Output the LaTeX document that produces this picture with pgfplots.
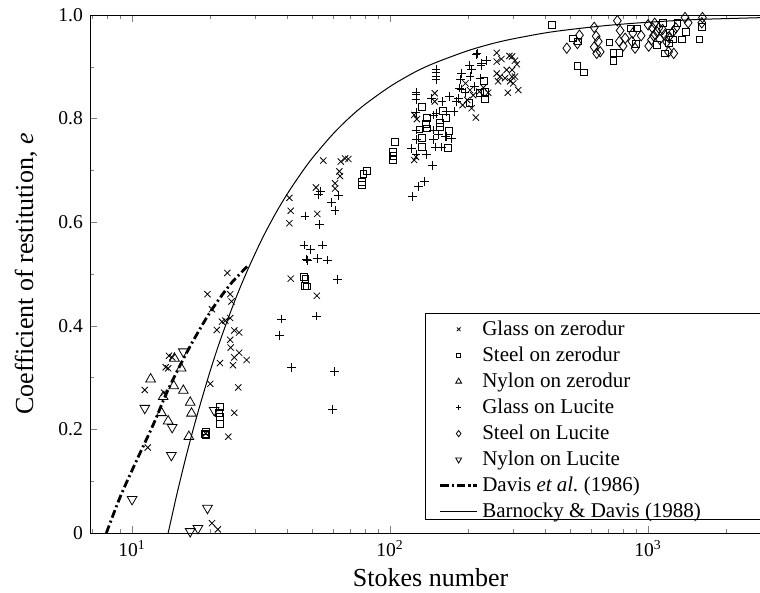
\documentclass[border=0pt]{standalone}
\usepackage{fontspec}
\setmainfont{Liberation Serif}
\usepackage{pgfplots}
\pgfplotsset{compat=1.18}
\usepackage{pgfplotstable}

% glass on zerodur
\pgfplotstableread{
St e
23.4 0.502
19.6 0.461
24.0 0.461
24.3 0.447
20.4 0.432
22.3 0.408
24.0 0.415
23.0 0.410
21.3 0.392
24.9 0.391
26.0 0.387
24.0 0.373
24.1 0.358
26.0 0.348
24.9 0.339
27.8 0.334
21.9 0.328
24.6 0.324
13.9 0.342
14.3 0.339
13.5 0.320
13.8 0.318
20.1 0.288
25.8 0.281
11.2 0.276
13.3 0.271
24.9 0.232
23.6 0.186
11.5 0.165
19.3 0.192
20.4 0.019
21.5 0.007
55.1 0.719
64.4 0.717
66.9 0.723
68.9 0.722
63.6 0.698
64.0 0.689
61.2 0.675
61.2 0.665
51.6 0.667
40.7 0.647
41.2 0.622
40.7 0.598
52.2 0.616
41.2 0.491
52.0 0.458
124 0.807
127 0.799
126 0.726
124 0.720
149 0.849
149 0.833
215 0.802
207 0.820
191 0.826
199 0.836
204 0.855
196 0.868
210 0.845
222 0.852
230 0.860
240 0.850
259 0.927
259 0.910
290 0.921
297 0.920
305 0.912
310 0.905
283 0.894
297 0.894
259 0.887
267 0.881
297 0.881
305 0.881
279 0.878
292 0.872
300 0.868
262 0.872
286 0.850
314 0.855
270 0.915
}\glasszero

% steel on zerodur
\pgfplotstableread{
St e
19.3 0.196
19.3 0.189
19.2 0.192
21.9 0.244
21.7 0.232
21.9 0.224
21.9 0.210
46.4 0.494
47.0 0.490
46.8 0.477
47.5 0.476
81.3 0.699
78.8 0.693
77.6 0.678
77.6 0.672
104.5 0.755
102.4 0.736
103 0.728
102.7 0.721
132.7 0.822
138.7 0.801
137.6 0.790
138.7 0.781
156 0.791
156 0.784
160 0.815
164.8 0.802
168.7 0.777
167 0.743
130 0.779
132.7 0.762
132.7 0.746
231 0.872
233 0.852
233 0.837
223 0.849
203 0.830
423 0.981
511 0.955
536 0.949
532 0.902
565 0.889
708 0.947
734 0.927
774 0.927
734 0.911
857 0.974
904 0.974
898 0.944
1081 0.942
1164 0.926
1247 0.953
1299 0.985
1351 0.953
1403 0.968
1581 0.953
1615 0.977
1140 0.984
1217 0.965
1200 0.945
}\steelzero

% nylon on zerodur
\pgfplotstableread{
St e
11.8 0.297
14.6 0.337
15.5 0.318
14.5 0.284
15.8 0.275
13.2 0.263
13.0 0.232
16.8 0.252
17.0 0.231
13.8 0.216
16.6 0.186
}\nylonzero

% glass on Lucite
\pgfplotstableread{
St e
53.6 0.659
52.7 0.654
63.0 0.651
59.4 0.638
61.2 0.622
46.8 0.612
53.2 0.596
46.4 0.556
49.3 0.548
54.8 0.556
47.3 0.529
48.0 0.526
52.2 0.530
57.1 0.527
62.5 0.490
38.0 0.413
52.0 0.419
37.2 0.382
41.6 0.320
60.7 0.311
60.0 0.239
122.4 0.649
128.8 0.669
135.9 0.678
146.4 0.709
138.7 0.730
126.1 0.730
121.3 0.743
149.4 0.745
158.5 0.745
126.9 0.760
147.2 0.760
173.4 0.762
164.8 0.766
126.1 0.778
147.2 0.778
150.7 0.810
177.0 0.813
126.1 0.811
126 0.846
126 0.850
126 0.837
145.1 0.839
169.8 0.842
184.1 0.839
150.7 0.895
150.7 0.889
150.7 0.882
150.7 0.875
189.7 0.887
187 0.875
202.7 0.903
215.4 0.923
226.7 0.907
235.6 0.912
189.7 0.857
181.4 0.833
217 0.925
207 0.895
225 0.902
204 0.881
223 0.878
186 0.859
159 0.833
147 0.807
166 0.813
154 0.770
164 0.766
195 0.850
212 0.862
}\glassluc

% steel on Lucite
\pgfplotstableread{
St e
484 0.936
542 0.961
532 0.945
618 0.976
629 0.959
618 0.938
641 0.949
632 0.926
652 0.929
760 0.989
779 0.970
774 0.949
815 0.955
872 0.965
890 0.936
865 0.949
1000 0.981
1005 0.940
1030 0.952
1060 0.984
1081 0.968
1138 0.972
1110 0.953
1200 0.957
1250 0.968
1200 0.929
1257 0.926
1390 0.995
1430 0.985
1624 0.995
1615 0.985
1050 0.960
1100 0.975
1160 0.962
1180 0.948
1280 0.975
800 0.940
1040 0.975
940 0.960
}\steelluc

% nylon on Lucite
\pgfplotstableread{
St e
15.8 0.350
11.2 0.241
14.3 0.204
14.2 0.150
10.0 0.065
19.6 0.048
18.0 0.009
16.8 0.003
20.8 0.237
}\nylonluc

\begin{document}
\begin{tikzpicture}
\begin{axis}[
    scale only axis,
    width=340.6pt, height=259pt,
    xmode=log,
    xmin=6.87, xmax=3000,
    ymin=0, ymax=1,
    tick align=inside,
    xtick pos=both, ytick pos=left,
    major tick length=3.5pt, minor tick length=2pt,
    xtick={10,100,1000},
    xticklabels={10\textsuperscript{1},10\textsuperscript{2},10\textsuperscript{3}},
    minor xtick={7,8,9,20,30,40,50,60,70,80,90,200,300,400,500,600,700,800,900,2000},
    ytick={0,0.2,0.4,0.6,0.8,1},
    yticklabels={0,0.2,0.4,0.6,0.8,1.0},
    minor ytick={0.1,0.3,0.5,0.7,0.9},
    tick label style={font=\fontsize{9.8}{11}\selectfont},
    /pgf/number format/assume math mode=true,
    xlabel={Stokes number},
    ylabel={Coefficient of restitution, \textit{e}},
    every axis x label/.style={at={(rel axis cs:0.5,-0.087)}, anchor=center,
      font=\fontsize{13}{15}\selectfont},
    every axis y label/.style={at={(rel axis cs:-0.094,0.5)}, rotate=90, anchor=center,
      font=\fontsize{13}{15}\selectfont},
    clip=false,
    every axis plot/.append style={black, line width=0.4pt},
    legend style={at={(0.503,0.0077)}, anchor=south west, draw=none, fill=none,
      font=\fontsize{10.5}{12}\selectfont, row sep=0.25pt},
    legend cell align=left,
    legend image code/.code={\draw[mark repeat=2,mark phase=2,
      every mark/.append style={scale=0.6}]
      plot coordinates {(0cm,0cm) (0.32cm,0cm) (0.64cm,0cm)};},
]
\addplot[only marks, mark=x, mark size=2.2pt] table[x=St,y=e] {\glasszero};
\addlegendentry{Glass on zerodur}
\addplot[only marks, mark=square, mark size=1.7pt] table[x=St,y=e] {\steelzero};
\addlegendentry{Steel on zerodur}
\addplot[only marks, mark=triangle, mark size=2.8pt] table[x=St,y=e] {\nylonzero};
\addlegendentry{Nylon on zerodur}
\addplot[only marks, mark=+, mark size=2.2pt] table[x=St,y=e] {\glassluc};
\addlegendentry{Glass on Lucite}
\addplot[only marks, mark=diamond, mark size=2.6pt] table[x=St,y=e] {\steelluc};
\addlegendentry{Steel on Lucite}
\addplot[only marks, mark=triangle, mark size=2.8pt, mark options={rotate=180}] table[x=St,y=e] {\nylonluc};
\addlegendentry{Nylon on Lucite}
% Davis et al. (1986)
\addplot[line width=1.4pt, smooth, dash pattern=on 4pt off 1.6pt on 1pt off 1.6pt] coordinates {
    (7.95,0) (9,0.07) (10.3,0.135) (12.1,0.21) (13.6,0.27) (15.4,0.325)
    (17.2,0.37) (19.7,0.42) (22,0.455) (24.5,0.485) (28,0.515)};
\addlegendentry{Davis \textit{et al.}\ (1986)}
% Barnocky & Davis (1988)
\addplot[line width=0.5pt, smooth] coordinates {
    (13.8,0) (14.5,0.048) (15,0.080) (16,0.1375) (17,0.188) (18,0.233)
    (20,0.310) (22,0.373) (25,0.448) (28,0.507) (32,0.569) (36,0.617)
    (40,0.655) (45,0.693) (50,0.724) (60,0.770) (70,0.803) (80,0.8275)
    (100,0.862) (125,0.890) (150,0.908) (200,0.931) (250,0.945) (300,0.954)
    (400,0.9655) (500,0.972) (700,0.980) (1000,0.986) (1500,0.991)
    (2000,0.993) (3000,0.9954)};
\addlegendentry{Barnocky \& Davis (1988)}
% legend frame, running past the cropped right-hand edge as in the reference
\draw[line width=0.5pt] (rel axis cs:0.493,0.027) rectangle (rel axis cs:1.06,0.4247);
\end{axis}
% the reference is cropped just inside the right-hand end of the axis
\pgfresetboundingbox
\path[use as bounding box] ([xshift=-45pt,yshift=-30pt]current axis.south west)
    rectangle ([xshift=335pt,yshift=7.5pt]current axis.north west);
\end{tikzpicture}
\end{document}
